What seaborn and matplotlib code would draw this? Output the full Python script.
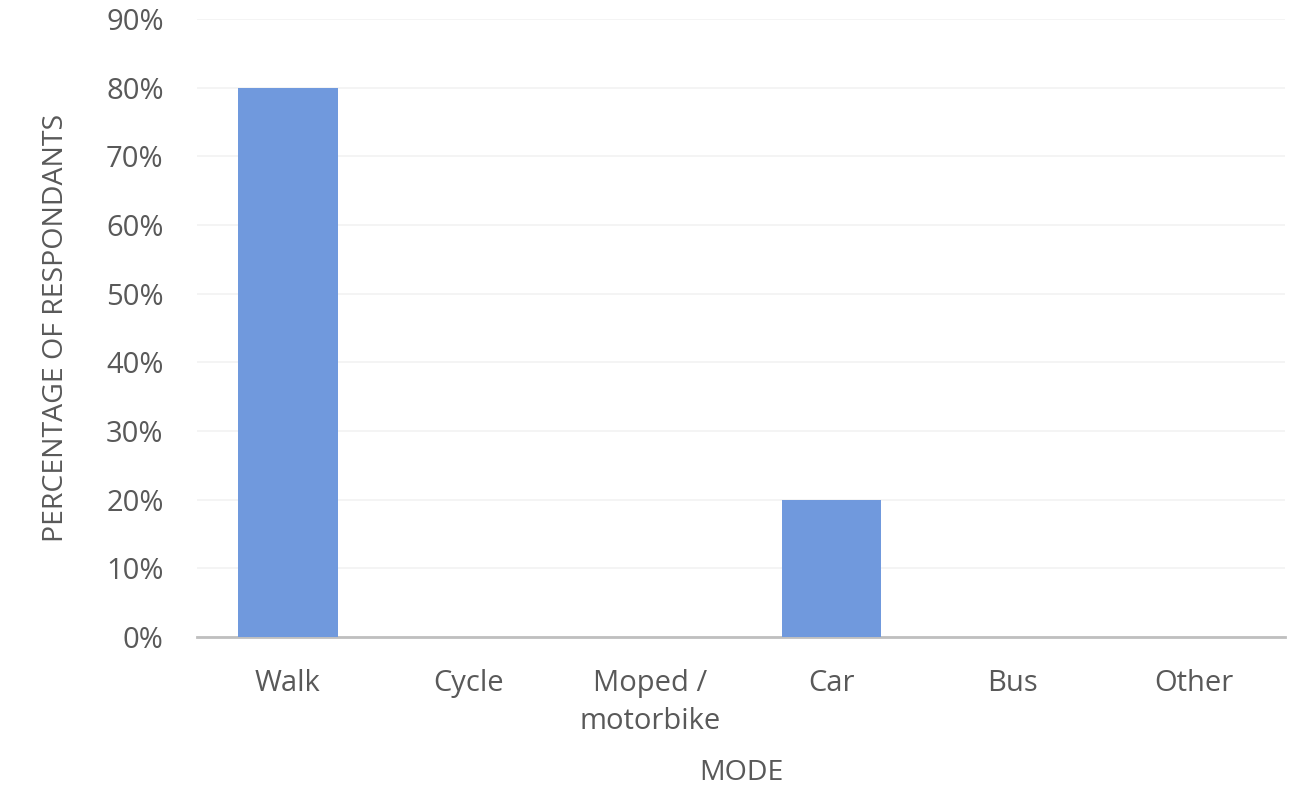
import matplotlib
matplotlib.use("Agg")
import matplotlib.pyplot as plt
import seaborn as sns
import pandas as pd
from matplotlib.ticker import PercentFormatter

modes = ["Walk", "Cycle", "Moped /\nmotorbike", "Car", "Bus", "Other"]
percentages = [80, 0, 0, 20, 0, 0]
yticks = [0, 10, 20, 30, 40, 50, 60, 70, 80, 90]

sns.set_theme(style="white")
plt.rcParams["font.family"] = ["Open Sans", "DejaVu Sans"]

df = pd.DataFrame({"mode": modes, "pct": percentages})

fig = plt.figure(figsize=(13.09, 7.95), dpi=100)
ax = fig.add_axes([0.1505, 0.1987, 0.831, 0.7773])

sns.barplot(data=df, x="mode", y="pct", color="#7099dd", saturation=1,
            width=0.55, ax=ax, zorder=3, linewidth=0)

ax.set_ylim(0, 90)
ax.set_yticks(yticks)
ax.yaxis.set_major_formatter(PercentFormatter(decimals=0))
ax.grid(axis="y", color="#f2f2f2", linewidth=1.2, zorder=0)
ax.set_axisbelow(True)

for s in ["top", "right", "left"]:
    ax.spines[s].set_visible(False)
ax.spines["bottom"].set_color("#bfbfbf")
ax.spines["bottom"].set_linewidth(2)

ax.tick_params(axis="both", length=0, labelsize=21, colors="#595959")
ax.tick_params(axis="y", pad=24)
ax.tick_params(axis="x", pad=23)
for lbl in ax.get_xticklabels():
    lbl.set_linespacing(1.4)

ax.set_xlabel("MODE", fontsize=20.5, color="#595959", labelpad=17)
ax.set_ylabel("PERCENTAGE OF RESPONDANTS", fontsize=20.5, color="#595959", labelpad=26)

fig.savefig("out.png", dpi=100, facecolor="white")
